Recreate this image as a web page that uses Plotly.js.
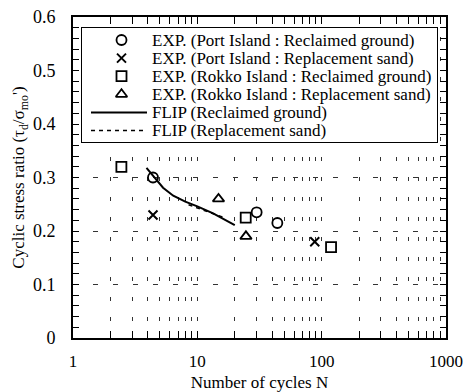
<!DOCTYPE html>
<html>
<head>
<meta charset="utf-8">
<script src="https://cdn.plot.ly/plotly-3.0.1.min.js"></script>
<style>
  html, body { margin: 0; padding: 0; background: #fff; }
  #chart { width: 470px; height: 392px; }
</style>
</head>
<body>
<div id="chart"></div>
<script>
// Laboratory results: number of cycles N vs cyclic stress ratio
const portReclaimedN = [4.4, 30, 44];
const portReclaimedCSR = [0.30, 0.235, 0.215];
const portReplacementN = [4.4, 88];
const portReplacementCSR = [0.23, 0.18];
const rokkoReclaimedN = [2.45, 24.5, 119];
const rokkoReclaimedCSR = [0.32, 0.225, 0.17];
const rokkoReplacementN = [14.8, 24.6];
const rokkoReplacementCSR = [0.26, 0.19];

// FLIP simulated liquefaction strength curves
const flipReclaimedN = [3.9, 4.6, 5.3, 6.4, 8, 10, 13.4, 20];
const flipReclaimedCSR = [0.318, 0.298, 0.281, 0.266, 0.255, 0.246, 0.233, 0.211];
const flipReplacementN = [8.5, 10.5, 13, 16];
const flipReplacementCSR = [0.249, 0.241, 0.233, 0.226];

const seriesNames = [
  'EXP. (Port Island : Reclaimed ground)',
  'EXP. (Port Island : Replacement sand)',
  'EXP. (Rokko Island : Reclaimed ground)',
  'EXP. (Rokko Island : Replacement sand)',
  'FLIP (Reclaimed ground)',
  'FLIP (Replacement sand)'
];

const xTickVals = [1, 10, 100, 1000];
const xMinorVals = [2, 3, 4, 5, 6, 7, 8, 9, 20, 30, 40, 50, 60, 70, 80, 90,
                    200, 300, 400, 500, 600, 700, 800, 900];

const FONT = 'Liberation Serif, Times New Roman, serif';
const INK = '#000';

const styles = [
  { mode: 'markers', marker: { symbol: 'circle-open', size: 10, color: INK, line: { width: 1.8, color: INK } } },
  { mode: 'markers', marker: { symbol: 'x-thin-open', size: 9, color: INK, line: { width: 2, color: INK } } },
  { mode: 'markers', marker: { symbol: 'square-open', size: 10, color: INK, line: { width: 1.8, color: INK } } },
  { mode: 'markers', marker: { symbol: 'triangle-up-open', size: 10, color: INK, line: { width: 1.8, color: INK } } },
  { mode: 'lines', line: { color: INK, width: 2, dash: 'solid' } },
  { mode: 'lines', line: { color: INK, width: 1.5, dash: '4px,4px' } }
];

const dataX = [portReclaimedN, portReplacementN, rokkoReclaimedN, rokkoReplacementN, flipReclaimedN, flipReplacementN];
const dataY = [portReclaimedCSR, portReplacementCSR, rokkoReclaimedCSR, rokkoReplacementCSR, flipReclaimedCSR, flipReplacementCSR];

// plot-area geometry (pixels)
const M = { l: 73, r: 24, t: 17, b: 54 };
const W = 470, H = 392;
const PW = W - M.l - M.r, PH = H - M.t - M.b;
const fx = px => (px - M.l) / PW;
const fy = py => (M.t + PH - py) / PH;

// legend panel: an inset subplot whose axes run in page pixels
const LEG = { x0: 82, x1: 437, y0: 28, y1: 142, row0: 40, rowStep: 18.1,
              keyMid: 121.5, lineX0: 91, lineX1: 147, textX: 150 };

const traces = [];
styles.forEach((s, i) => {
  traces.push(Object.assign({
    type: 'scatter', x: dataX[i], y: dataY[i], name: seriesNames[i],
    showlegend: false, hoverinfo: 'skip'
  }, s));
});

const annotations = [];
styles.forEach((s, i) => {
  const ry = LEG.row0 + LEG.rowStep * i;
  const key = s.mode === 'markers'
    ? { x: [LEG.keyMid], y: [ry] }
    : { x: [LEG.lineX0, LEG.lineX1], y: [ry, ry] };
  traces.push(Object.assign({}, s, key, {
    type: 'scatter', xaxis: 'x2', yaxis: 'y2', showlegend: false, hoverinfo: 'skip',
    cliponaxis: false
  }));
  annotations.push({
    xref: 'x2', yref: 'y2', x: LEG.textX, y: ry,
    xanchor: 'left', yanchor: 'middle', showarrow: false,
    text: seriesNames[i], font: { family: FONT, size: 17, color: INK }
  });
});

const insetAxis = {
  showline: true, mirror: true, linewidth: 1, linecolor: INK,
  showgrid: false, zeroline: false, showticklabels: false, ticks: '', fixedrange: true
};

const layout = {
  width: W, height: H,
  margin: M,
  paper_bgcolor: '#fff', plot_bgcolor: '#fff',
  font: { family: FONT, size: 17, color: INK },
  showlegend: false,
  xaxis: {
    type: 'log', range: [0, 3], domain: [0, 1],
    showline: true, linewidth: 2, linecolor: INK, mirror: 'ticks',
    ticks: 'inside', ticklen: 7, tickwidth: 1, tickcolor: INK,
    tickvals: xTickVals, ticktext: xTickVals.map(String),
    tickfont: { family: FONT, size: 17, color: INK },
    ticklabelstandoff: 7,
    showgrid: true, gridcolor: '#333', gridwidth: 1, griddash: '4px,16px',
    minor: { tickvals: xMinorVals, ticks: 'inside', ticklen: 7, tickwidth: 1, tickcolor: INK,
             showgrid: true, gridcolor: '#333', gridwidth: 1, griddash: '4px,16px' },
    zeroline: false,
    title: { text: 'Number of cycles N', font: { family: FONT, size: 17, color: INK }, standoff: 9 }
  },
  yaxis: {
    range: [0, 0.6], dtick: 0.1, domain: [0, 1],
    showline: true, linewidth: 2, linecolor: INK, mirror: 'ticks',
    ticks: 'inside', ticklen: 6, tickwidth: 1, tickcolor: INK,
    tickfont: { family: FONT, size: 18, color: INK },
    ticklabelstandoff: 12,
    showgrid: true, gridcolor: '#333', gridwidth: 1, griddash: '5px,15px',
    minor: { dtick: 0.02, ticks: 'inside', ticklen: 6, tickwidth: 1, tickcolor: INK, showgrid: false },
    zeroline: false,
    title: { text: "Cyclic stress ratio (τ<sub>d</sub>/σ<sub>mo</sub>')", font: { family: FONT, size: 17, color: INK }, standoff: 4 }
  },
  xaxis2: Object.assign({}, insetAxis, {
    anchor: 'y2', domain: [fx(LEG.x0), fx(LEG.x1)], range: [LEG.x0, LEG.x1]
  }),
  yaxis2: Object.assign({}, insetAxis, {
    anchor: 'x2', domain: [fy(LEG.y1), fy(LEG.y0)], range: [LEG.y1, LEG.y0]
  }),
  annotations: annotations
};

Plotly.newPlot('chart', traces, layout, { staticPlot: true, displayModeBar: false });
</script>
</body>
</html>
